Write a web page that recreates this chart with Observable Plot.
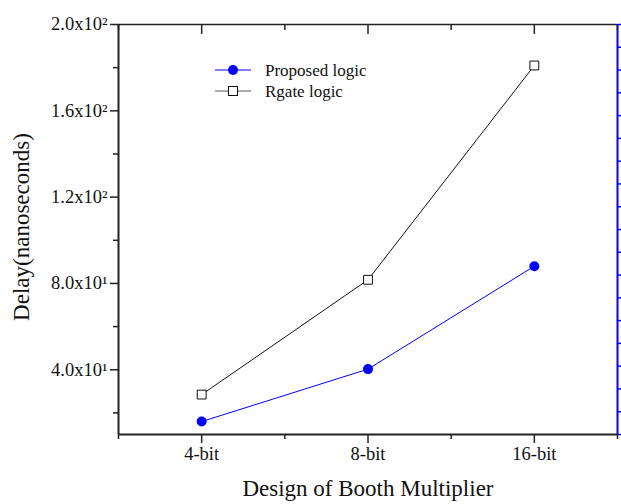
<!DOCTYPE html>
<html>
<head>
<meta charset="utf-8">
<script src="https://cdn.jsdelivr.net/npm/d3@7"></script>
<script src="https://cdn.jsdelivr.net/npm/@observablehq/plot@0.6"></script>
<style>
  html, body { margin: 0; padding: 0; background: #fff; }
  #chart svg { display: block; }
</style>
</head>
<body>
<div id="chart"></div>
<script>
const categories = ["4-bit", "8-bit", "16-bit"];
const xPositions = [1, 2, 3];
const proposed = [16, 40.3, 88];
const rgate = [28.5, 81.7, 181];
const seriesNames = ["Proposed logic", "Rgate logic"];
const yTicks = [40, 80, 120, 160, 200];
const yTickLabels = ["4.0x10\u00B9", "8.0x10\u00B9", "1.2x10\u00B2", "1.6x10\u00B2", "2.0x10\u00B2"];
const yMinorTicks = [20, 60, 100, 140, 180];
const xMinorTicks = [0.5, 1.5, 2.5, 3.5];
const xDomain = [0.5, 3.5];
const yDomain = [10, 200];
const rightTicks = d3.range(19).map(i => yDomain[0] + i * (yDomain[1] - yDomain[0]) / 18);
const xTitle = "Design of Booth Multiplier";
const yTitle = "Delay(nanoseconds)";

const propData = xPositions.map((x, i) => ({x, y: proposed[i]}));
const rgateData = xPositions.map((x, i) => ({x, y: rgate[i]}));

const axisColor = "#222";
const font = "'Liberation Serif', 'Times New Roman', serif";

const chart = Plot.plot({
  width: 621,
  height: 504,
  marginLeft: 118,
  marginRight: 4,
  marginTop: 24,
  marginBottom: 70,
  style: {fontFamily: font, background: "#fff", color: "#111"},
  x: {domain: xDomain},
  y: {domain: yDomain},
  marks: [
    // frame lines
    Plot.ruleY([yDomain[1]], {stroke: axisColor, strokeWidth: 1.5}),
    Plot.ruleY([yDomain[0]], {stroke: axisColor, strokeWidth: 2}),
    Plot.ruleX([xDomain[0]], {stroke: axisColor, strokeWidth: 2}),
    Plot.ruleX([xDomain[1]], {stroke: "#0000ff", strokeWidth: 2}),
    // bottom axis
    Plot.axisX({ticks: xPositions, tickSize: 9, tickPadding: 3, strokeWidth: 1.5, stroke: axisColor,
      tickFormat: d => categories[xPositions.indexOf(d)], fontSize: 18.5, label: null}),
    Plot.axisX({ticks: xMinorTicks, tickSize: 5, strokeWidth: 1.5, stroke: axisColor, text: null, label: null}),
    // top axis (inward)
    Plot.axisX({anchor: "top", ticks: xPositions, tickSize: -9, strokeWidth: 1.5, stroke: axisColor, text: null, label: null}),
    Plot.axisX({anchor: "top", ticks: xMinorTicks, tickSize: -5, strokeWidth: 1.5, stroke: axisColor, text: null, label: null}),
    // left axis
    Plot.axisY({ticks: yTicks, tickSize: 8, tickPadding: 3, strokeWidth: 1.5, stroke: axisColor,
      tickFormat: d => yTickLabels[yTicks.indexOf(d)], fontSize: 18.5, label: null}),
    Plot.axisY({ticks: yMinorTicks, tickSize: 5, strokeWidth: 1.5, stroke: axisColor, text: null, label: null}),
    // right axis (blue)
    Plot.axisY({anchor: "right", ticks: rightTicks, tickSize: 5, strokeWidth: 1.5, stroke: "#0000ff", text: null, label: null}),
    // series
    Plot.line(rgateData, {x: "x", y: "y", stroke: "#111", strokeWidth: 1}),
    Plot.dot(rgateData, {x: "x", y: "y", symbol: "square", r: 5, fill: "#fff", stroke: "#111", strokeWidth: 1}),
    Plot.line(propData, {x: "x", y: "y", stroke: "#0000ff", strokeWidth: 1}),
    Plot.dot(propData, {x: "x", y: "y", r: 5, fill: "#0000ff", stroke: "none"})
  ]
});

document.getElementById("chart").appendChild(chart);

const svg = d3.select(chart);

// axis titles
svg.append("text")
  .attr("x", 368).attr("y", 488).attr("dy", "0.35em")
  .attr("text-anchor", "middle").attr("font-family", font).attr("font-size", 23)
  .attr("fill", "#111").text(xTitle);
svg.append("text")
  .attr("transform", "translate(21,227) rotate(-90)").attr("dy", "0.35em")
  .attr("text-anchor", "middle").attr("font-family", font).attr("font-size", 23)
  .attr("fill", "#111").text(yTitle);

// legend
const lg = svg.append("g").attr("font-family", font).attr("font-size", 17).attr("text-anchor", "start");
const legendItems = [
  {name: seriesNames[0], color: "#0000ff", symbol: "circle", y: 70},
  {name: seriesNames[1], color: "#555", symbol: "square", y: 91}
];
legendItems.forEach(it => {
  lg.append("line").attr("x1", 215).attr("x2", 251).attr("y1", it.y).attr("y2", it.y)
    .attr("stroke", it.color).attr("stroke-width", 1);
  if (it.symbol === "circle") {
    lg.append("circle").attr("cx", 233).attr("cy", it.y).attr("r", 5).attr("fill", "#0000ff");
  } else {
    lg.append("rect").attr("x", 228.5).attr("y", it.y - 4.5).attr("width", 9).attr("height", 9)
      .attr("fill", "#fff").attr("stroke", "#111").attr("stroke-width", 1);
  }
  lg.append("text").attr("x", 265).attr("y", it.y).attr("dy", "0.35em").attr("fill", "#111").text(it.name);
});
</script>
</body>
</html>
